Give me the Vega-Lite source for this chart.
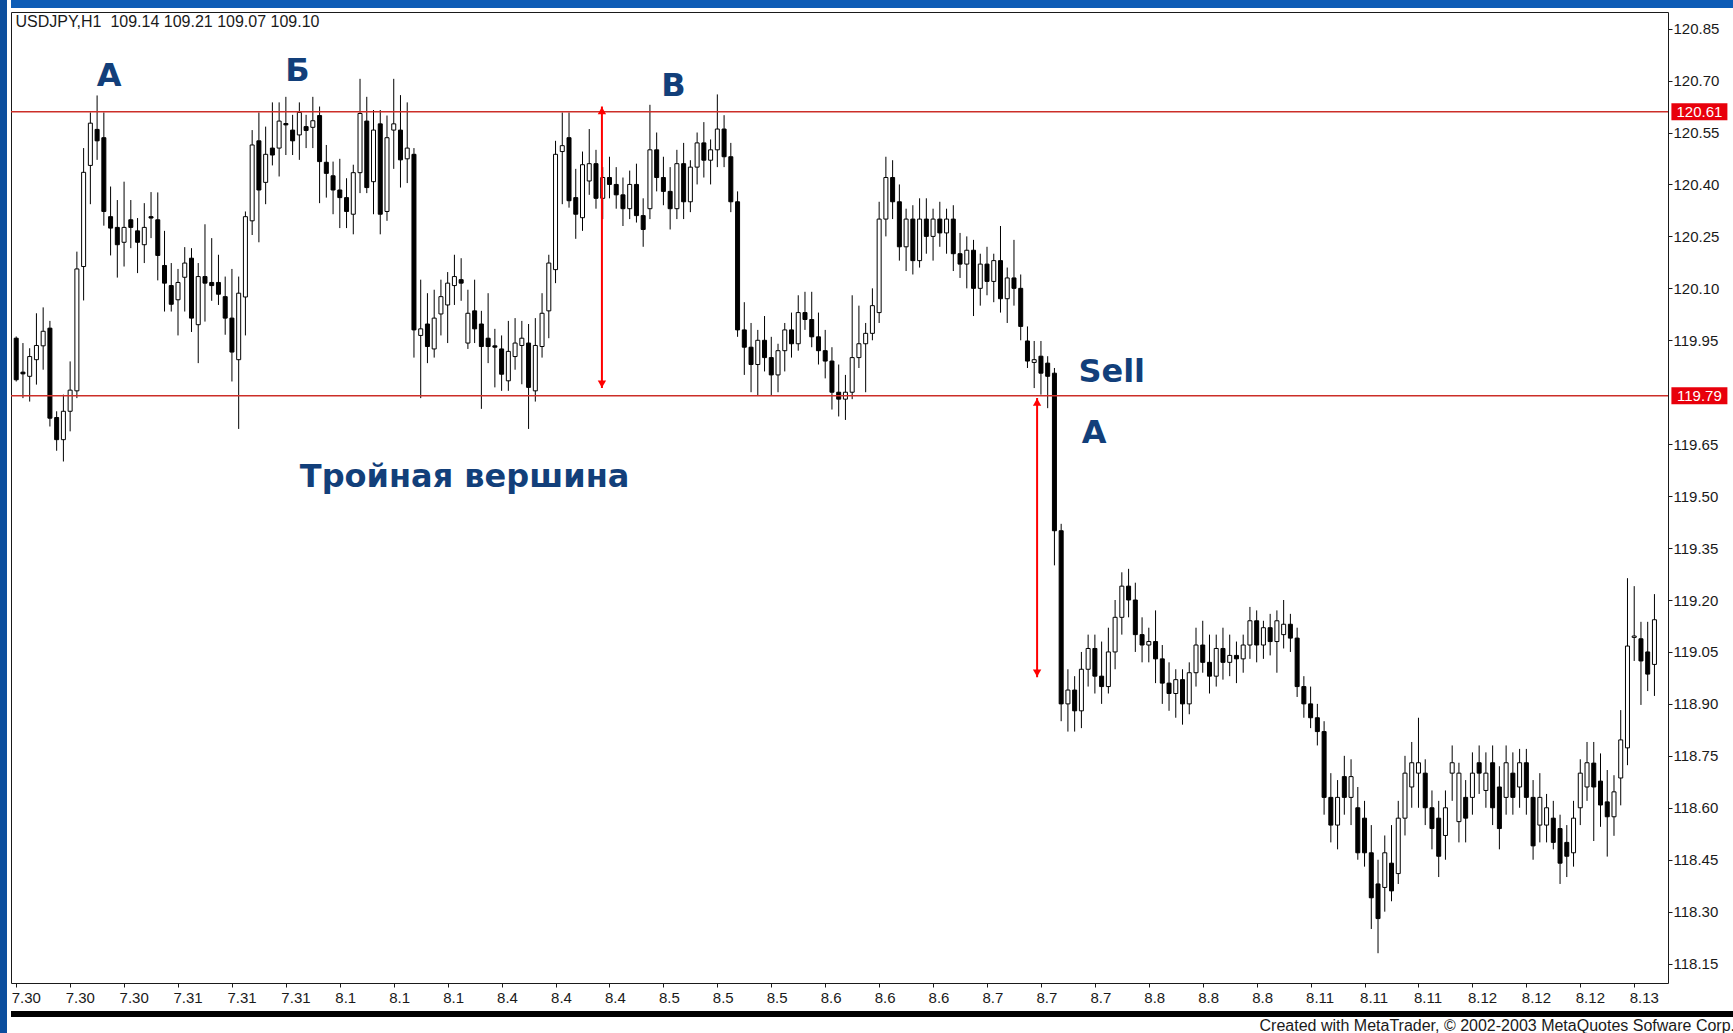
{
"$schema": "https://vega.github.io/schema/vega-lite/v6.json",
"padding": 0,
"background": "white",
"spacing": 2,
"config": {
  "view": {"stroke": null},
  "axis": {"labelFont": "Liberation Sans", "labelFontSize": 15, "labelColor": "#1a1a1a", "tickColor": "#1a1a1a", "grid": false, "domain": false}
},
"datasets": {
  "candles": [
{"i":0,"o":119.956,"h":119.961,"l":119.831,"c":119.836},
{"i":1,"o":119.858,"h":119.942,"l":119.783,"c":119.853},
{"i":2,"o":119.846,"h":119.927,"l":119.773,"c":119.903},
{"i":3,"o":119.894,"h":120.028,"l":119.822,"c":119.935},
{"i":4,"o":119.934,"h":120.045,"l":119.865,"c":119.976},
{"i":5,"o":119.985,"h":120.006,"l":119.701,"c":119.725},
{"i":6,"o":119.727,"h":119.745,"l":119.631,"c":119.663},
{"i":7,"o":119.663,"h":119.793,"l":119.600,"c":119.745},
{"i":8,"o":119.745,"h":119.889,"l":119.687,"c":119.806},
{"i":9,"o":119.804,"h":120.206,"l":119.783,"c":120.156},
{"i":10,"o":120.163,"h":120.505,"l":120.065,"c":120.435},
{"i":11,"o":120.455,"h":120.608,"l":120.343,"c":120.577},
{"i":12,"o":120.559,"h":120.657,"l":120.471,"c":120.526},
{"i":13,"o":120.535,"h":120.608,"l":120.281,"c":120.322},
{"i":14,"o":120.307,"h":120.394,"l":120.195,"c":120.274},
{"i":15,"o":120.276,"h":120.355,"l":120.131,"c":120.226},
{"i":16,"o":120.233,"h":120.408,"l":120.163,"c":120.276},
{"i":17,"o":120.298,"h":120.355,"l":120.216,"c":120.276},
{"i":18,"o":120.266,"h":120.303,"l":120.144,"c":120.233},
{"i":19,"o":120.226,"h":120.346,"l":120.173,"c":120.276},
{"i":20,"o":120.307,"h":120.378,"l":120.245,"c":120.303},
{"i":21,"o":120.298,"h":120.377,"l":120.123,"c":120.195},
{"i":22,"o":120.166,"h":120.266,"l":120.033,"c":120.115},
{"i":23,"o":120.108,"h":120.173,"l":120.033,"c":120.054},
{"i":24,"o":120.067,"h":120.156,"l":119.964,"c":120.117},
{"i":25,"o":120.132,"h":120.219,"l":120.033,"c":120.173},
{"i":26,"o":120.187,"h":120.216,"l":119.974,"c":120.014},
{"i":27,"o":119.995,"h":120.173,"l":119.884,"c":120.134},
{"i":28,"o":120.134,"h":120.285,"l":120.004,"c":120.115},
{"i":29,"o":120.117,"h":120.245,"l":120.064,"c":120.108},
{"i":30,"o":120.117,"h":120.197,"l":120.052,"c":120.083},
{"i":31,"o":120.076,"h":120.134,"l":119.966,"c":120.014},
{"i":32,"o":120.014,"h":120.156,"l":119.831,"c":119.916},
{"i":33,"o":119.894,"h":120.134,"l":119.694,"c":120.086},
{"i":34,"o":120.075,"h":120.322,"l":119.964,"c":120.307},
{"i":35,"o":120.295,"h":120.557,"l":120.254,"c":120.514},
{"i":36,"o":120.526,"h":120.608,"l":120.233,"c":120.384},
{"i":37,"o":120.406,"h":120.567,"l":120.343,"c":120.487},
{"i":38,"o":120.505,"h":120.637,"l":120.455,"c":120.485},
{"i":39,"o":120.505,"h":120.637,"l":120.423,"c":120.583},
{"i":40,"o":120.576,"h":120.653,"l":120.485,"c":120.572},
{"i":41,"o":120.557,"h":120.601,"l":120.485,"c":120.526},
{"i":42,"o":120.543,"h":120.637,"l":120.471,"c":120.608},
{"i":43,"o":120.567,"h":120.601,"l":120.505,"c":120.556},
{"i":44,"o":120.565,"h":120.653,"l":120.505,"c":120.584},
{"i":45,"o":120.599,"h":120.625,"l":120.346,"c":120.466},
{"i":46,"o":120.464,"h":120.514,"l":120.362,"c":120.432},
{"i":47,"o":120.425,"h":120.466,"l":120.314,"c":120.384},
{"i":48,"o":120.384,"h":120.474,"l":120.274,"c":120.362},
{"i":49,"o":120.362,"h":120.418,"l":120.274,"c":120.322},
{"i":50,"o":120.314,"h":120.457,"l":120.256,"c":120.434},
{"i":51,"o":120.434,"h":120.705,"l":120.375,"c":120.605},
{"i":52,"o":120.583,"h":120.653,"l":120.375,"c":120.391},
{"i":53,"o":120.408,"h":120.615,"l":120.314,"c":120.557},
{"i":54,"o":120.575,"h":120.615,"l":120.256,"c":120.314},
{"i":55,"o":120.322,"h":120.599,"l":120.295,"c":120.535},
{"i":56,"o":120.557,"h":120.705,"l":120.445,"c":120.575},
{"i":57,"o":120.557,"h":120.658,"l":120.391,"c":120.471},
{"i":58,"o":120.474,"h":120.637,"l":120.404,"c":120.505},
{"i":59,"o":120.487,"h":120.505,"l":119.900,"c":119.980},
{"i":60,"o":119.964,"h":120.125,"l":119.783,"c":119.983},
{"i":61,"o":119.997,"h":120.086,"l":119.884,"c":119.932},
{"i":62,"o":119.925,"h":120.096,"l":119.900,"c":120.014},
{"i":63,"o":120.026,"h":120.125,"l":119.964,"c":120.076},
{"i":64,"o":120.052,"h":120.147,"l":119.942,"c":120.115},
{"i":65,"o":120.108,"h":120.197,"l":120.052,"c":120.134},
{"i":66,"o":120.125,"h":120.187,"l":120.064,"c":120.115},
{"i":67,"o":119.942,"h":120.096,"l":119.925,"c":120.028},
{"i":68,"o":120.035,"h":120.125,"l":119.942,"c":119.983},
{"i":69,"o":119.997,"h":120.035,"l":119.752,"c":119.932},
{"i":70,"o":119.956,"h":120.086,"l":119.884,"c":119.932},
{"i":71,"o":119.934,"h":119.983,"l":119.814,"c":119.930},
{"i":72,"o":119.925,"h":119.964,"l":119.804,"c":119.852},
{"i":73,"o":119.833,"h":120.006,"l":119.804,"c":119.918},
{"i":74,"o":119.903,"h":120.014,"l":119.865,"c":119.942},
{"i":75,"o":119.935,"h":120.006,"l":119.823,"c":119.956},
{"i":76,"o":119.942,"h":119.997,"l":119.694,"c":119.814},
{"i":77,"o":119.804,"h":120.014,"l":119.773,"c":119.935},
{"i":78,"o":119.932,"h":120.086,"l":119.900,"c":120.028},
{"i":79,"o":120.035,"h":120.197,"l":119.956,"c":120.173},
{"i":80,"o":120.154,"h":120.526,"l":120.115,"c":120.487},
{"i":81,"o":120.495,"h":120.608,"l":120.343,"c":120.512},
{"i":82,"o":120.535,"h":120.608,"l":120.333,"c":120.353},
{"i":83,"o":120.362,"h":120.445,"l":120.243,"c":120.314},
{"i":84,"o":120.304,"h":120.495,"l":120.266,"c":120.457},
{"i":85,"o":120.41,"h":120.56,"l":120.37,"c":120.46},
{"i":86,"o":120.46,"h":120.50,"l":120.33,"c":120.36},
{"i":87,"o":120.36,"h":120.45,"l":120.30,"c":120.42},
{"i":88,"o":120.42,"h":120.48,"l":120.36,"c":120.40},
{"i":89,"o":120.40,"h":120.45,"l":120.33,"c":120.37},
{"i":90,"o":120.37,"h":120.42,"l":120.28,"c":120.33},
{"i":91,"o":120.33,"h":120.44,"l":120.30,"c":120.40},
{"i":92,"o":120.40,"h":120.46,"l":120.29,"c":120.31},
{"i":93,"o":120.31,"h":120.36,"l":120.22,"c":120.27},
{"i":94,"o":120.33,"h":120.63,"l":120.30,"c":120.50},
{"i":95,"o":120.50,"h":120.55,"l":120.38,"c":120.42},
{"i":96,"o":120.42,"h":120.48,"l":120.34,"c":120.38},
{"i":97,"o":120.38,"h":120.45,"l":120.27,"c":120.33},
{"i":98,"o":120.33,"h":120.50,"l":120.30,"c":120.46},
{"i":99,"o":120.46,"h":120.52,"l":120.30,"c":120.35},
{"i":100,"o":120.35,"h":120.47,"l":120.32,"c":120.45},
{"i":101,"o":120.45,"h":120.55,"l":120.40,"c":120.52},
{"i":102,"o":120.52,"h":120.58,"l":120.42,"c":120.47},
{"i":103,"o":120.47,"h":120.53,"l":120.40,"c":120.50},
{"i":104,"o":120.50,"h":120.66,"l":120.45,"c":120.56},
{"i":105,"o":120.56,"h":120.60,"l":120.45,"c":120.48},
{"i":106,"o":120.48,"h":120.52,"l":120.32,"c":120.35},
{"i":107,"o":120.35,"h":120.38,"l":119.96,"c":119.98},
{"i":108,"o":119.98,"h":120.06,"l":119.85,"c":119.93},
{"i":109,"o":119.93,"h":120.00,"l":119.80,"c":119.88},
{"i":110,"o":119.88,"h":119.98,"l":119.79,"c":119.95},
{"i":111,"o":119.95,"h":120.02,"l":119.86,"c":119.90},
{"i":112,"o":119.90,"h":119.96,"l":119.79,"c":119.85},
{"i":113,"o":119.85,"h":119.94,"l":119.80,"c":119.92},
{"i":114,"o":119.92,"h":120.00,"l":119.86,"c":119.98},
{"i":115,"o":119.98,"h":120.03,"l":119.90,"c":119.94},
{"i":116,"o":119.94,"h":120.08,"l":119.92,"c":120.03},
{"i":117,"o":120.03,"h":120.09,"l":119.98,"c":120.01},
{"i":118,"o":120.01,"h":120.09,"l":119.93,"c":119.96},
{"i":119,"o":119.96,"h":120.03,"l":119.88,"c":119.92},
{"i":120,"o":119.92,"h":119.98,"l":119.84,"c":119.89},
{"i":121,"o":119.89,"h":119.93,"l":119.75,"c":119.80},
{"i":122,"o":119.80,"h":119.88,"l":119.73,"c":119.78},
{"i":123,"o":119.78,"h":119.85,"l":119.72,"c":119.80},
{"i":124,"o":119.80,"h":120.08,"l":119.78,"c":119.90},
{"i":125,"o":119.90,"h":120.05,"l":119.87,"c":119.94},
{"i":126,"o":119.94,"h":120.00,"l":119.80,"c":119.97},
{"i":127,"o":119.97,"h":120.10,"l":119.95,"c":120.05},
{"i":128,"o":120.03,"h":120.35,"l":120.00,"c":120.30},
{"i":129,"o":120.30,"h":120.48,"l":120.25,"c":120.42},
{"i":130,"o":120.42,"h":120.47,"l":120.30,"c":120.35},
{"i":131,"o":120.35,"h":120.40,"l":120.18,"c":120.22},
{"i":132,"o":120.22,"h":120.33,"l":120.15,"c":120.30},
{"i":133,"o":120.30,"h":120.34,"l":120.14,"c":120.18},
{"i":134,"o":120.18,"h":120.36,"l":120.16,"c":120.30},
{"i":135,"o":120.30,"h":120.36,"l":120.20,"c":120.25},
{"i":136,"o":120.25,"h":120.33,"l":120.18,"c":120.30},
{"i":137,"o":120.30,"h":120.35,"l":120.22,"c":120.26},
{"i":138,"o":120.26,"h":120.33,"l":120.20,"c":120.30},
{"i":139,"o":120.30,"h":120.34,"l":120.15,"c":120.20},
{"i":140,"o":120.20,"h":120.26,"l":120.13,"c":120.17},
{"i":141,"o":120.17,"h":120.25,"l":120.10,"c":120.21},
{"i":142,"o":120.21,"h":120.24,"l":120.02,"c":120.10},
{"i":143,"o":120.10,"h":120.20,"l":120.05,"c":120.17},
{"i":144,"o":120.17,"h":120.22,"l":120.08,"c":120.12},
{"i":145,"o":120.12,"h":120.20,"l":120.06,"c":120.18},
{"i":146,"o":120.18,"h":120.28,"l":120.03,"c":120.07},
{"i":147,"o":120.07,"h":120.16,"l":120.00,"c":120.13},
{"i":148,"o":120.13,"h":120.24,"l":120.05,"c":120.10},
{"i":149,"o":120.10,"h":120.14,"l":119.95,"c":119.99},
{"i":150,"o":119.948,"h":119.99,"l":119.87,"c":119.890},
{"i":151,"o":119.886,"h":119.948,"l":119.812,"c":119.894},
{"i":152,"o":119.904,"h":119.948,"l":119.793,"c":119.855},
{"i":153,"o":119.884,"h":119.904,"l":119.754,"c":119.846},
{"i":154,"o":119.855,"h":119.87,"l":119.30,"c":119.40},
{"i":155,"o":119.40,"h":119.42,"l":118.85,"c":118.90},
{"i":156,"o":118.90,"h":119.00,"l":118.82,"c":118.94},
{"i":157,"o":118.94,"h":118.98,"l":118.82,"c":118.88},
{"i":158,"o":118.88,"h":119.05,"l":118.83,"c":119.00},
{"i":159,"o":119.00,"h":119.10,"l":118.95,"c":119.06},
{"i":160,"o":119.06,"h":119.10,"l":118.93,"c":118.98},
{"i":161,"o":118.98,"h":119.08,"l":118.90,"c":118.95},
{"i":162,"o":118.95,"h":119.12,"l":118.93,"c":119.05},
{"i":163,"o":119.05,"h":119.20,"l":119.00,"c":119.15},
{"i":164,"o":119.15,"h":119.28,"l":119.10,"c":119.24},
{"i":165,"o":119.24,"h":119.29,"l":119.15,"c":119.20},
{"i":166,"o":119.20,"h":119.25,"l":119.05,"c":119.10},
{"i":167,"o":119.10,"h":119.15,"l":119.02,"c":119.07},
{"i":168,"o":119.07,"h":119.12,"l":119.02,"c":119.08},
{"i":169,"o":119.08,"h":119.17,"l":118.96,"c":119.03},
{"i":170,"o":119.03,"h":119.07,"l":118.90,"c":118.96},
{"i":171,"o":118.96,"h":119.02,"l":118.88,"c":118.93},
{"i":172,"o":118.93,"h":119.00,"l":118.86,"c":118.97},
{"i":173,"o":118.97,"h":119.00,"l":118.84,"c":118.90},
{"i":174,"o":118.90,"h":119.02,"l":118.87,"c":118.99},
{"i":175,"o":118.99,"h":119.12,"l":118.95,"c":119.07},
{"i":176,"o":119.07,"h":119.14,"l":118.99,"c":119.02},
{"i":177,"o":119.02,"h":119.10,"l":118.93,"c":118.98},
{"i":178,"o":118.98,"h":119.10,"l":118.95,"c":119.06},
{"i":179,"o":119.06,"h":119.12,"l":118.97,"c":119.02},
{"i":180,"o":119.02,"h":119.10,"l":118.98,"c":119.04},
{"i":181,"o":119.04,"h":119.08,"l":118.96,"c":119.03},
{"i":182,"o":119.03,"h":119.10,"l":118.99,"c":119.07},
{"i":183,"o":119.07,"h":119.18,"l":119.03,"c":119.14},
{"i":184,"o":119.14,"h":119.17,"l":119.02,"c":119.07},
{"i":185,"o":119.07,"h":119.14,"l":119.03,"c":119.12},
{"i":186,"o":119.12,"h":119.16,"l":119.04,"c":119.08},
{"i":187,"o":119.08,"h":119.17,"l":118.99,"c":119.14},
{"i":188,"o":119.10,"h":119.20,"l":119.06,"c":119.13},
{"i":189,"o":119.13,"h":119.16,"l":119.05,"c":119.09},
{"i":190,"o":119.09,"h":119.12,"l":118.92,"c":118.95},
{"i":191,"o":118.95,"h":118.98,"l":118.86,"c":118.90},
{"i":192,"o":118.90,"h":118.95,"l":118.83,"c":118.86},
{"i":193,"o":118.86,"h":118.90,"l":118.78,"c":118.82},
{"i":194,"o":118.82,"h":118.85,"l":118.58,"c":118.63},
{"i":195,"o":118.63,"h":118.70,"l":118.50,"c":118.55},
{"i":196,"o":118.55,"h":118.68,"l":118.48,"c":118.63},
{"i":197,"o":118.69,"h":118.75,"l":118.58,"c":118.63},
{"i":198,"o":118.63,"h":118.74,"l":118.55,"c":118.69},
{"i":199,"o":118.60,"h":118.66,"l":118.45,"c":118.47},
{"i":200,"o":118.57,"h":118.62,"l":118.43,"c":118.47},
{"i":201,"o":118.47,"h":118.55,"l":118.25,"c":118.34},
{"i":202,"o":118.38,"h":118.45,"l":118.18,"c":118.28},
{"i":203,"o":118.37,"h":118.52,"l":118.30,"c":118.47},
{"i":204,"o":118.44,"h":118.55,"l":118.33,"c":118.36},
{"i":205,"o":118.41,"h":118.62,"l":118.38,"c":118.57},
{"i":206,"o":118.57,"h":118.75,"l":118.52,"c":118.70},
{"i":207,"o":118.66,"h":118.79,"l":118.60,"c":118.73},
{"i":208,"o":118.70,"h":118.86,"l":118.60,"c":118.73},
{"i":209,"o":118.70,"h":118.74,"l":118.55,"c":118.60},
{"i":210,"o":118.60,"h":118.65,"l":118.48,"c":118.54},
{"i":211,"o":118.57,"h":118.62,"l":118.40,"c":118.46},
{"i":212,"o":118.52,"h":118.65,"l":118.45,"c":118.60},
{"i":213,"o":118.70,"h":118.78,"l":118.62,"c":118.73},
{"i":214,"o":118.56,"h":118.73,"l":118.50,"c":118.70},
{"i":215,"o":118.63,"h":118.68,"l":118.50,"c":118.57},
{"i":216,"o":118.63,"h":118.76,"l":118.58,"c":118.70},
{"i":217,"o":118.73,"h":118.78,"l":118.64,"c":118.70},
{"i":218,"o":118.65,"h":118.76,"l":118.60,"c":118.70},
{"i":219,"o":118.73,"h":118.78,"l":118.55,"c":118.60},
{"i":220,"o":118.66,"h":118.72,"l":118.48,"c":118.54},
{"i":221,"o":118.63,"h":118.78,"l":118.58,"c":118.73},
{"i":222,"o":118.70,"h":118.76,"l":118.58,"c":118.63},
{"i":223,"o":118.66,"h":118.77,"l":118.60,"c":118.73},
{"i":224,"o":118.73,"h":118.77,"l":118.58,"c":118.63},
{"i":225,"o":118.63,"h":118.68,"l":118.45,"c":118.49},
{"i":226,"o":118.55,"h":118.70,"l":118.50,"c":118.63},
{"i":227,"o":118.55,"h":118.64,"l":118.50,"c":118.60},
{"i":228,"o":118.57,"h":118.62,"l":118.48,"c":118.50},
{"i":229,"o":118.54,"h":118.58,"l":118.38,"c":118.44},
{"i":230,"o":118.50,"h":118.55,"l":118.40,"c":118.46},
{"i":231,"o":118.47,"h":118.62,"l":118.43,"c":118.57},
{"i":232,"o":118.60,"h":118.74,"l":118.55,"c":118.70},
{"i":233,"o":118.66,"h":118.79,"l":118.62,"c":118.73},
{"i":234,"o":118.729,"h":118.790,"l":118.504,"c":118.660},
{"i":235,"o":118.677,"h":118.757,"l":118.545,"c":118.608},
{"i":236,"o":118.617,"h":118.709,"l":118.459,"c":118.574},
{"i":237,"o":118.574,"h":118.694,"l":118.519,"c":118.646},
{"i":238,"o":118.686,"h":118.882,"l":118.607,"c":118.796},
{"i":239,"o":118.773,"h":119.263,"l":118.723,"c":119.067},
{"i":240,"o":119.092,"h":119.240,"l":119.024,"c":119.096},
{"i":241,"o":119.088,"h":119.137,"l":118.897,"c":119.024},
{"i":242,"o":119.050,"h":119.137,"l":118.937,"c":118.986},
{"i":243,"o":119.014,"h":119.217,"l":118.923,"c":119.143}
  ],
  "levels": [{"p": 120.61, "label": "120.61"}, {"p": 119.79, "label": "119.79"}],
  "arrows": [{"i": 86.88, "top": 120.625, "bottom": 119.812}, {"i": 151.43, "top": 119.783, "bottom": 118.977}],
  "notes": [
    {"i": 13.8, "p": 120.714, "t": "А"},
    {"i": 41.7, "p": 120.727, "t": "Б"},
    {"i": 97.47, "p": 120.683, "t": "В"},
    {"i": 162.5, "p": 119.859, "t": "Sell"},
    {"i": 159.9, "p": 119.683, "t": "А"},
    {"i": 66.51, "p": 119.555, "t": "Тройная вершина"}
  ],
  "header": [{"i": -0.1, "p": 120.868, "t": "USDJPY,H1\u00a0 109.14 109.21 109.07 109.10"}]
},
"hconcat": [
  {"width": 7, "height": 1033, "view": {"fill": "#0B4E9E", "stroke": null}, "data": {"values": []}, "mark": "point"},
  {"spacing": 3, "vconcat": [
    {"width": 1724, "height": 8, "view": {"fill": "#0D5CB6", "stroke": null}, "data": {"values": []}, "mark": "point"},
    {"width": 1657, "height": 971,
     "view": {"fill": "white", "stroke": "#1a1a1a", "strokeWidth": 1},
     "layer": [
      {"data": {"name": "candles"},
       "mark": {"type": "rule", "color": "black", "strokeWidth": 1, "clip": true},
       "encoding": {
         "x": {"field": "i", "type": "quantitative", "title": null, "scale": {"domain": [-0.03, 244.27], "nice": false, "zero": false},
               "axis": {"values": [0,8,16,24,32,40,48,56,64,72,80,88,96,104,112,120,128,136,144,152,160,168,176,184,192,200,208,216,224,232,240],
                        "labelExpr": "['7.30','7.30','7.30','7.31','7.31','7.31','8.1','8.1','8.1','8.4','8.4','8.4','8.5','8.5','8.5','8.6','8.6','8.6','8.7','8.7','8.7','8.8','8.8','8.8','8.11','8.11','8.11','8.12','8.12','8.12','8.13'][round(datum.value/8)]",
                        "labelAlign": "left", "labelOffset": -5, "tickSize": 4, "labelPadding": 3, "minExtent": 24, "maxExtent": 24, "labelOverlap": false, "labelFlush": false, "title": null}},
         "y": {"field": "l", "type": "quantitative", "title": null, "scale": {"domain": [118.094, 120.898], "nice": false, "zero": false},
               "axis": {"orient": "right", "values": [118.15,118.3,118.45,118.6,118.75,118.9,119.05,119.2,119.35,119.5,119.65,119.95,120.1,120.25,120.4,120.55,120.7,120.85],
                        "format": ".2f", "tickSize": 4, "labelPadding": 1, "labelOverlap": false, "labelFlush": false, "labelBaseline": "middle", "title": null}},
         "y2": {"field": "h"}
       }},
      {"data": {"name": "candles"},
       "mark": {"type": "bar", "size": 4, "stroke": "black", "strokeWidth": 1, "clip": true},
       "encoding": {
         "x": {"field": "i", "type": "quantitative", "title": null},
         "y": {"field": "o", "type": "quantitative", "title": null},
         "y2": {"field": "c"},
         "fill": {"condition": {"test": "datum.c >= datum.o", "value": "white"}, "value": "black"}
       }},
      {"data": {"name": "levels"},
       "mark": {"type": "rule", "color": "#CC2E28", "strokeWidth": 1.4},
       "encoding": {"y": {"field": "p", "type": "quantitative", "title": null}}},
      {"data": {"name": "arrows"},
       "mark": {"type": "rule", "color": "#FF0000", "strokeWidth": 2},
       "encoding": {
         "x": {"field": "i", "type": "quantitative", "title": null},
         "y": {"field": "top", "type": "quantitative", "title": null},
         "y2": {"field": "bottom"}
       }},
      {"data": {"name": "arrows"},
       "mark": {"type": "point", "shape": "triangle-up", "filled": true, "color": "#FF0000", "size": 70, "opacity": 1, "yOffset": 4},
       "encoding": {
         "x": {"field": "i", "type": "quantitative", "title": null},
         "y": {"field": "top", "type": "quantitative", "title": null}
       }},
      {"data": {"name": "arrows"},
       "mark": {"type": "point", "shape": "triangle-down", "filled": true, "color": "#FF0000", "size": 70, "opacity": 1, "yOffset": -4},
       "encoding": {
         "x": {"field": "i", "type": "quantitative", "title": null},
         "y": {"field": "bottom", "type": "quantitative", "title": null}
       }},
      {"data": {"name": "notes"},
       "mark": {"type": "text", "font": "DejaVu Sans", "fontWeight": "bold", "fontSize": 32, "color": "#123F7A", "align": "center", "baseline": "middle"},
       "encoding": {
         "x": {"field": "i", "type": "quantitative", "title": null},
         "y": {"field": "p", "type": "quantitative", "title": null},
         "text": {"field": "t"}
       }},
      {"data": {"name": "header"},
       "mark": {"type": "text", "font": "Liberation Sans", "fontSize": 16, "color": "#1a1a1a", "align": "left", "baseline": "middle"},
       "encoding": {
         "x": {"field": "i", "type": "quantitative", "title": null},
         "y": {"field": "p", "type": "quantitative", "title": null},
         "text": {"field": "t"}
       }},
      {"data": {"name": "levels"},
       "mark": {"type": "tick", "orient": "horizontal", "size": 56, "thickness": 17, "color": "#E8000B", "opacity": 1, "clip": false},
       "encoding": {
         "x": {"datum": 249.67, "type": "quantitative", "title": null},
         "y": {"field": "p", "type": "quantitative", "title": null}
       }},
      {"data": {"name": "levels"},
       "mark": {"type": "text", "font": "Liberation Sans", "fontSize": 15, "color": "white", "align": "center", "baseline": "middle", "clip": false},
       "encoding": {
         "x": {"datum": 249.67, "type": "quantitative", "title": null},
         "y": {"field": "p", "type": "quantitative", "title": null},
         "text": {"field": "label"}
       }}
     ]},
    {"width": 1724, "height": 6, "view": {"fill": "black", "stroke": null}, "data": {"values": []}, "mark": "point",
     "title": {"text": "Created with MetaTrader, © 2002-2003 MetaQuotes Sofware Corp.", "orient": "bottom", "anchor": "end", "font": "Liberation Sans", "fontSize": 16, "fontWeight": "normal", "color": "#1a1a1a", "offset": 1, "baseline": "top"}}
  ]}
]
}
